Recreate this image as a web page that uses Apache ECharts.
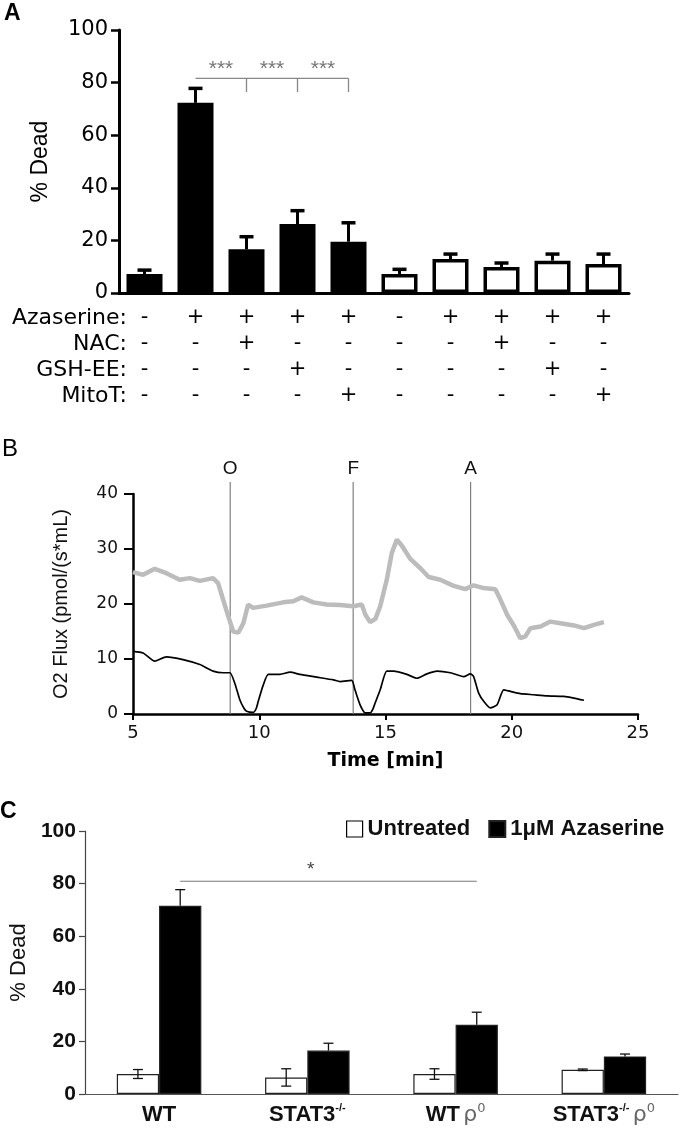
<!DOCTYPE html>
<html><head><meta charset="utf-8">
<script src="https://cdn.jsdelivr.net/npm/echarts/dist/echarts.min.js"></script>
<style>html,body{margin:0;padding:0;background:#fff;}#c{width:680px;height:1129px;}</style>
</head><body><div id="c"></div>
<script>
// ---------- Panel A data ----------
const aCategories = ['1','2','3','4','5','6','7','8','9','10'];
const aMeans = [7.2, 72.3, 16.6, 26.2, 19.5, 7.2, 12.9, 9.9, 12.3, 11.0];
const aErrs  = [1.5, 5.5, 4.8, 5.1, 7.2, 1.8, 1.9, 1.5, 2.5, 3.8];
const aFilled = [true, true, true, true, true, false, false, false, false, false];
const rowLabels = ['Azaserine:', 'NAC:', 'GSH-EE:', 'MitoT:'];
const azaserineRow = ['-','+','+','+','+','-','+','+','+','+'];
const nacRow       = ['-','-','+','-','-','-','-','+','-','-'];
const gshRow       = ['-','-','-','+','-','-','-','-','+','-'];
const mitoRow      = ['-','-','-','-','+','-','-','-','-','+'];
const aTicks = [0, 20, 40, 60, 80, 100];
const aBracket = {from: 1, to: 4, level: 81.6, drop: 76.4, label: '***'};

// ---------- Panel B data ----------
const grayTrace = [[5,25.8],[5.4,25.3],[5.86,26.4],[6.32,25.6],[6.85,24.4],[7.25,24.7],[7.65,24.2],[8.17,24.7],[8.37,23.8],[8.57,20.8],[8.77,17.8],[8.97,15.0],[9.17,14.8],[9.37,16.5],[9.56,19.9],[9.76,19.3],[10.29,19.7],[10.95,20.3],[11.35,20.5],[11.68,21.2],[12.14,20.3],[12.67,19.9],[13.2,19.8],[13.73,19.6],[14.06,19.9],[14.2,18.1],[14.39,16.7],[14.6,17.3],[14.79,19.6],[15.05,24.4],[15.25,29.3],[15.45,31.7],[15.65,30.6],[15.98,28.2],[16.38,26.5],[16.71,24.9],[17.17,24.4],[17.7,23.3],[18.16,22.7],[18.49,23.4],[18.89,22.9],[19.35,22.7],[19.55,20.8],[19.81,18.1],[20.08,16.1],[20.34,13.8],[20.54,14.1],[20.74,15.6],[21.14,15.9],[21.53,16.8],[21.93,16.5],[22.46,16.1],[22.86,15.6],[23.25,16.2],[23.65,16.7]];
const blackTrace = [[5,11.4],[5.4,11.1],[5.86,9.6],[6.32,10.4],[6.98,9.9],[7.65,9.0],[8.17,7.8],[8.57,7.5],[8.84,7.5],[9.03,5.6],[9.23,2.6],[9.4,1.0],[9.5,0.5],[9.76,0.3],[9.88,1.0],[9.96,2.3],[10.16,5.3],[10.36,7.2],[10.82,7.2],[11.22,7.6],[11.61,7.2],[12.28,6.7],[12.94,6.2],[13.2,5.9],[13.66,6.1],[13.79,4.4],[13.99,1.7],[14.1,0.7],[14.19,0.2],[14.39,0.2],[14.5,0.9],[14.59,2.0],[14.79,4.4],[15.05,7.8],[15.32,7.8],[15.85,7.2],[16.24,6.5],[16.64,7.3],[17.04,7.8],[17.57,7.5],[18.1,6.8],[18.36,7.3],[18.49,6.8],[18.69,3.8],[18.89,2.3],[19.15,1.1],[19.42,1.7],[19.68,4.4],[19.95,4.1],[20.34,3.7],[20.87,3.5],[21.4,3.3],[22.06,3.2],[22.46,2.9],[22.86,2.5]];
const markerTimes = [8.85, 13.72, 18.37];
const markerLabels = ['O', 'F', 'A'];
const bXTicks = [5, 10, 15, 20, 25];
const bYTicks = [0, 10, 20, 30, 40];

// ---------- Panel C data ----------
const cCategories = ['WT', 'STAT3-/-', 'WT ρ0', 'STAT3-/- ρ0'];
const cSeriesNames = ['Untreated', '1μM Azaserine'];
const untreatedMeans = [7.6, 6.3, 7.6, 9.2];
const untreatedErrs  = [1.7, 3.3, 2.0, 0.3];
const azaMeans = [71.6, 16.5, 26.3, 14.3];
const azaErrs  = [6.1, 2.8, 4.8, 0.9];
const cSig = {from: 0, to: 2, level: 80.9, label: '*'};

// ---------- layout constants ----------
const A_LEFT = 119, A_TOP = 30, A_W = 510, A_H = 263;
const TABLE_MARGIN = 12, TABLE_LH = 26;
const B_LEFT = 133, B_TOP = 494, B_W = 505, B_H = 220;
const C_LEFT = 72, C_TOP = 831, C_W = 606, C_H = 263;
const C_GAP = 0.43;

const chart = echarts.init(document.getElementById('c'), null, {renderer: 'canvas'});

function errA(params, api) {
  const i = api.value(0);
  const base = api.coord([i, api.value(1)]);
  const top = api.coord([i, api.value(2)]);
  const cap = 14;
  return {type: 'group', children: [
    {type: 'line', shape: {x1: top[0], y1: base[1], x2: top[0], y2: top[1]}, style: {stroke: '#000', lineWidth: 3}},
    {type: 'line', shape: {x1: top[0] - cap/2, y1: top[1], x2: top[0] + cap/2, y2: top[1]}, style: {stroke: '#000', lineWidth: 3.5}}
  ]};
}

function bracketA(params, api) {
  const f = api.value(0), t = api.value(1), lv = api.value(2), dr = api.value(3);
  const p0 = api.coord([f, lv]), p1 = api.coord([t, lv]);
  const yDrop = api.coord([f, dr])[1];
  const kids = [{type: 'line', shape: {x1: p0[0], y1: p0[1], x2: p1[0], y2: p1[1]}, style: {stroke: '#888', lineWidth: 1.3}}];
  let prevX = p0[0];
  for (let k = f + 1; k <= t; k++) {
    const x = api.coord([k, lv])[0];
    kids.push({type: 'line', shape: {x1: x, y1: p0[1], x2: x, y2: yDrop}, style: {stroke: '#888', lineWidth: 1.3}});
    kids.push({type: 'text', x: (prevX + x) / 2, y: p0[1] + 1, style: {text: aBracket.label, align: 'center', verticalAlign: 'bottom', font: '21px "Liberation Sans"', fill: '#777'}});
    prevX = x;
  }
  return {type: 'group', children: kids};
}

function markersB(params, api) {
  const t = api.value(0), idx = api.value(1);
  const p0 = api.coord([t, 0]), p1 = api.coord([t, 40]);
  const topY = p1[1] - 12;
  return {type: 'group', children: [
    {type: 'line', shape: {x1: p0[0], y1: p0[1], x2: p0[0], y2: topY}, style: {stroke: '#808080', lineWidth: 1.2}},
    {type: 'text', x: p0[0], y: topY - 4, style: {text: markerLabels[idx], align: 'center', verticalAlign: 'bottom', font: '19px "Liberation Sans"', fill: '#111'}}
  ]};
}

function errC(params, api) {
  const i = api.value(0), m = api.value(1), e = api.value(2), side = api.value(3);
  const band = api.size([1, 0])[0];
  const bw = band * (1 - C_GAP) / 2;
  const x = api.coord([i, m])[0] + side * bw / 2;
  const yt = api.coord([i, m + e])[1];
  const yb = side < 0 ? api.coord([i, Math.max(0, m - e)])[1] : api.coord([i, m])[1];
  const cap = 10;
  const kids = [
    {type: 'line', shape: {x1: x, y1: yt, x2: x, y2: yb}, style: {stroke: '#111', lineWidth: 1.3}},
    {type: 'line', shape: {x1: x - cap/2, y1: yt, x2: x + cap/2, y2: yt}, style: {stroke: '#111', lineWidth: 1.3}}
  ];
  if (side < 0) kids.push({type: 'line', shape: {x1: x - cap/2, y1: yb, x2: x + cap/2, y2: yb}, style: {stroke: '#111', lineWidth: 1.3}});
  return {type: 'group', children: kids};
}

function sigC(params, api) {
  const f = api.value(0), t = api.value(1), lv = api.value(2);
  const band = api.size([1, 0])[0];
  const bw = band * (1 - C_GAP) / 2;
  const x0 = api.coord([f, lv])[0] + bw / 2, x1 = api.coord([t, lv])[0] + bw / 2;
  const y = api.coord([f, lv])[1];
  return {type: 'group', children: [
    {type: 'line', shape: {x1: x0, y1: y, x2: x1, y2: y}, style: {stroke: '#777', lineWidth: 1.2}},
    {type: 'text', x: x0 + (x1 - x0) * 0.44, y: y - 2, style: {text: cSig.label, align: 'center', verticalAlign: 'bottom', font: '19px "Liberation Sans"', fill: '#444'}}
  ]};
}

const tableRows = [azaserineRow, nacRow, gshRow, mitoRow];
const graphics = [
  {type: 'text', left: 4, top: 2, style: {text: 'A', font: 'bold 23px "Liberation Sans"', fill: '#000'}},
  {type: 'text', left: 2, top: 437, style: {text: 'B', font: '24px "Liberation Sans"', fill: '#000'}},
  {type: 'text', left: 0, top: 800, style: {text: 'C', font: 'bold 23px "Liberation Sans"', fill: '#000'}}
];
rowLabels.forEach((lab, k) => {
  graphics.push({type: 'text', x: 127, y: A_TOP + A_H + TABLE_MARGIN + TABLE_LH * (k + 0.5),
    style: {text: lab, align: 'right', verticalAlign: 'middle', font: '22px "DejaVu Sans"', fill: '#000'}});
});

const supStyle = {fontSize: 11, fontWeight: 'bold', fontFamily: 'Liberation Sans', color: '#111', verticalAlign: 'top', lineHeight: 26};
function cLabel(v) {
  let s = v;
  let rho = '';
  if (s.endsWith(' ρ0')) { s = s.slice(0, -3); rho = ' {rho|ρ}{rsup|0}'; }
  if (s.endsWith('-/-')) { s = '{b|' + s.slice(0, -3) + '}{sup|-/-}'; } else { s = '{b|' + s + '}'; }
  return s + rho;
}

const option = {
  animation: false,
  backgroundColor: '#fff',
  graphic: graphics,
  legend: {
    left: 346, top: 818, itemWidth: 16, itemHeight: 16, itemGap: 18, padding: 0,
    textStyle: {fontSize: 22, fontWeight: 'bold', fontFamily: 'Liberation Sans', color: '#111'},
    data: [
      {name: cSeriesNames[0], icon: 'rect', itemStyle: {color: '#fff', borderColor: '#000', borderWidth: 1.2}},
      {name: cSeriesNames[1], icon: 'rect', itemStyle: {color: '#000'}}
    ]
  },
  grid: [
    {left: A_LEFT, top: A_TOP, width: A_W, height: A_H, containLabel: false},
    {left: B_LEFT, top: B_TOP, width: B_W, height: B_H, containLabel: false},
    {left: C_LEFT, top: C_TOP, width: C_W, height: C_H, containLabel: false}
  ],
  xAxis: [
    {gridIndex: 0, type: 'category', data: aCategories,
      axisLine: {lineStyle: {color: '#000', width: 3}},
      axisTick: {alignWithLabel: true, length: 7, lineStyle: {color: '#000', width: 2.5}},
      axisLabel: {margin: TABLE_MARGIN, interval: 0, color: '#000', fontFamily: 'DejaVu Sans', fontSize: 21, lineHeight: TABLE_LH,
        formatter: (v, i) => tableRows.map(r => r[i]).join('\n')},
      splitLine: {show: false}},
    {gridIndex: 1, type: 'value', min: 5, max: 25, interval: 5,
      axisLine: {show: true, lineStyle: {color: '#000', width: 2.5}},
      axisTick: {show: true, length: 6, lineStyle: {color: '#000', width: 2}},
      axisLabel: {margin: 10, color: '#111', fontFamily: 'DejaVu Sans', fontSize: 18, customValues: bXTicks},
      splitLine: {show: false},
      name: 'Time [min]', nameLocation: 'middle', nameGap: 38,
      nameTextStyle: {fontFamily: 'DejaVu Sans', fontWeight: 'bold', fontSize: 19, color: '#000', padding: [0, 0, 0, 0]}},
    {gridIndex: 2, type: 'category', data: cCategories,
      axisLine: {lineStyle: {color: '#555', width: 1.2}},
      axisTick: {alignWithLabel: false, length: 6, lineStyle: {color: '#555', width: 1.2}},
      axisLabel: {margin: 8, interval: 0, formatter: cLabel,
        rich: {
          b: {fontSize: 22, fontWeight: 'bold', fontFamily: 'Liberation Sans', color: '#111', lineHeight: 26},
          sup: supStyle,
          rho: {fontSize: 22, fontFamily: 'DejaVu Sans', color: '#666', lineHeight: 26},
          rsup: {fontSize: 13, fontFamily: 'DejaVu Sans', color: '#666', verticalAlign: 'top', lineHeight: 26}
        }},
      splitLine: {show: false}}
  ],
  yAxis: [
    {gridIndex: 0, type: 'value', min: 0, max: 100, interval: 20,
      axisLine: {show: true, lineStyle: {color: '#000', width: 3}},
      axisTick: {show: true, length: 8, lineStyle: {color: '#000', width: 2.5}},
      axisLabel: {margin: 11, color: '#000', fontFamily: 'DejaVu Sans', fontSize: 21, customValues: aTicks},
      splitLine: {show: false},
      name: '% Dead', nameLocation: 'middle', nameGap: 67,
      nameTextStyle: {fontFamily: 'Liberation Sans', fontSize: 23, color: '#000'}},
    {gridIndex: 1, type: 'value', min: 0, max: 40, interval: 10,
      axisLine: {show: true, lineStyle: {color: '#000', width: 2.5}},
      axisTick: {show: true, length: 9, lineStyle: {color: '#000', width: 2}},
      axisLabel: {margin: 15, color: '#111', fontFamily: 'DejaVu Sans', fontSize: 17, customValues: bYTicks},
      splitLine: {show: false},
      name: 'O2 Flux (pmol/(s*mL)', nameLocation: 'middle', nameGap: 62,
      nameTextStyle: {fontFamily: 'Liberation Sans', fontSize: 20, color: '#111'}},
    {gridIndex: 2, type: 'value', min: 0, max: 100, interval: 20,
      axisLine: {show: true, lineStyle: {color: '#444', width: 1.2}},
      axisTick: {show: true, length: 6, lineStyle: {color: '#444', width: 1.2}},
      axisLabel: {margin: 9, color: '#111', fontFamily: 'Liberation Sans', fontWeight: 'bold', fontSize: 21},
      splitLine: {show: false},
      name: '% Dead', nameLocation: 'middle', nameGap: 51,
      nameTextStyle: {fontFamily: 'Liberation Sans', fontSize: 22, color: '#111'}}
  ],
  series: [
    {type: 'bar', xAxisIndex: 0, yAxisIndex: 0, barWidth: 36,
      data: aMeans.map((v, i) => ({value: v, itemStyle: aFilled[i] ? {color: '#000'} : {color: '#fff', borderColor: '#000', borderWidth: 3.5}}))},
    {type: 'custom', xAxisIndex: 0, yAxisIndex: 0, renderItem: errA, z: 5,
      data: aMeans.map((m, i) => [i, m, m + aErrs[i]]), encode: {x: 0, y: 2}},
    {type: 'custom', xAxisIndex: 0, yAxisIndex: 0, renderItem: bracketA, z: 5,
      data: [[aBracket.from, aBracket.to, aBracket.level, aBracket.drop]], encode: {x: [0, 1], y: 2}},
    {type: 'custom', xAxisIndex: 1, yAxisIndex: 1, renderItem: markersB, z: 1, clip: false,
      data: markerTimes.map((t, i) => [t, i]), encode: {x: 0}},
    {type: 'line', xAxisIndex: 1, yAxisIndex: 1, data: grayTrace, showSymbol: false, symbol: 'none', z: 3,
      lineStyle: {color: '#bcbcbc', width: 4.5}},
    {type: 'line', xAxisIndex: 1, yAxisIndex: 1, data: blackTrace, showSymbol: false, symbol: 'none', z: 4, smooth: 0.2,
      lineStyle: {color: '#000', width: 1.7}},
    {type: 'bar', name: cSeriesNames[0], xAxisIndex: 2, yAxisIndex: 2, barGap: '0%', barCategoryGap: (C_GAP * 100) + '%',
      data: untreatedMeans, itemStyle: {color: '#fff', borderColor: '#222', borderWidth: 1.2}},
    {type: 'bar', name: cSeriesNames[1], xAxisIndex: 2, yAxisIndex: 2, barGap: '0%', barCategoryGap: (C_GAP * 100) + '%',
      data: azaMeans, itemStyle: {color: '#000', borderColor: '#222', borderWidth: 1.2}},
    {type: 'custom', xAxisIndex: 2, yAxisIndex: 2, renderItem: errC, z: 5,
      data: untreatedMeans.map((m, i) => [i, m, untreatedErrs[i], -1]).concat(azaMeans.map((m, i) => [i, m, azaErrs[i], 1])),
      encode: {x: 0, y: 1}},
    {type: 'custom', xAxisIndex: 2, yAxisIndex: 2, renderItem: sigC, z: 5,
      data: [[cSig.from, cSig.to, cSig.level]], encode: {x: [0, 1], y: 2}}
  ]
};
chart.setOption(option);
</script>
</body></html>
